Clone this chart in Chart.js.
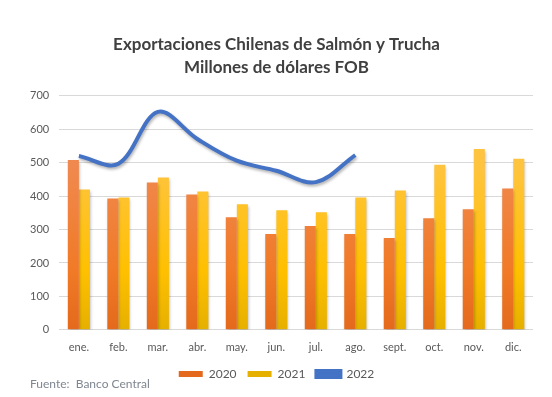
<!DOCTYPE html>
<html>
<head>
<meta charset="utf-8">
<script src="https://cdn.jsdelivr.net/npm/chart.js@4"></script>
<style>
  body { margin: 0; background: #fff; }
  #wrap { width: 552px; height: 397px; }
</style>
</head>
<body>
<div id="wrap"><canvas id="salmonChart"></canvas></div>
<script>
var months = ['ene.', 'feb.', 'mar.', 'abr.', 'may.', 'jun.', 'jul.', 'ago.', 'sept.', 'oct.', 'nov.', 'dic.'];
var data2020 = [508, 393, 441, 405, 337, 287, 311, 287, 275, 334, 361, 423];
var data2021 = [420, 396, 456, 414, 376, 358, 352, 396, 417, 494, 541, 512];
var data2022 = [520, 497, 652, 571, 506, 476, 442, 523];
var titleLines = ['Exportaciones Chilenas de Salmón y Trucha', 'Millones de dólares FOB'];
var sourceText = 'Fuente:  Banco Central';

function barGradient(top, mid, bottom) {
    return function(context) {
        var chart = context.chart;
        var area = chart.chartArea;
        if (!area) return mid;
        var g = chart.ctx.createLinearGradient(0, area.top, 0, area.bottom);
        g.addColorStop(0.3, top);
        g.addColorStop(0.75, mid);
        g.addColorStop(1, bottom);
        return g;
    };
}

var shadowPlugin = {
    id: 'shadows',
    beforeDatasetDraw: function(chart, args) {
        var ctx = chart.ctx;
        ctx.save();
        ctx.shadowColor = 'rgba(0,0,0,0.3)';
        ctx.shadowBlur = 3;
        ctx.shadowOffsetX = 1;
        ctx.shadowOffsetY = 2;
    },
    afterDatasetDraw: function(chart) {
        chart.ctx.restore();
    }
};

var sourcePlugin = {
    id: 'source',
    afterDraw: function(chart) {
        var ctx = chart.ctx;
        ctx.save();
        ctx.font = '12px Lato, "Open Sans", sans-serif';
        ctx.fillStyle = '#7f8690';
        ctx.textBaseline = 'middle';
        ctx.fillText(sourceText, 30, 384);
        ctx.restore();
    }
};

var ctx = document.getElementById('salmonChart').getContext('2d');
new Chart(ctx, {
    type: 'bar',
    data: {
        labels: months,
        datasets: [
            {
                label: '2022',
                type: 'line',
                data: data2022,
                borderColor: '#4472C4',
                backgroundColor: '#4472C4',
                borderWidth: 4,
                tension: 0.35,
                pointRadius: 0,
                order: 0
            },
            {
                label: '2020',
                data: data2020,
                backgroundColor: barGradient('#F0894F', '#F07A26', '#E4691C'),
                barPercentage: 1,
                categoryPercentage: 0.56,
                order: 1
            },
            {
                label: '2021',
                data: data2021,
                backgroundColor: barGradient('#FFC43F', '#FFC000', '#E6B000'),
                barPercentage: 1,
                categoryPercentage: 0.56,
                order: 1
            }
        ]
    },
    options: {
        responsive: true,
        maintainAspectRatio: false,
        animation: false,
        layout: { padding: { left: 20, right: 19, top: 8, bottom: 7 } },
        plugins: {
            title: {
                display: true,
                text: titleLines,
                color: '#404040',
                font: { family: 'Lato, "Open Sans", sans-serif', size: 17, weight: 'bold', lineHeight: 1.35 },
                padding: { top: 25, bottom: 17 }
            },
            legend: {
                position: 'bottom',
                labels: {
                    color: '#595959',
                    font: { family: 'Lato, "Open Sans", sans-serif', size: 12 },
                    boxWidth: 24,
                    boxHeight: 6,
                    padding: 11,
                    sort: function(a, b) { return a.text.localeCompare(b.text); }
                }
            },
            tooltip: { enabled: false }
        },
        scales: {
            x: {
                grid: { display: false },
                border: { display: false },
                ticks: { color: '#595959', font: { family: 'Lato, "Open Sans", sans-serif', size: 11 } }
            },
            y: {
                min: 0,
                max: 700,
                ticks: { stepSize: 100, color: '#595959', padding: 10, font: { family: 'Lato, "Open Sans", sans-serif', size: 11 } },
                grid: { color: '#d9d9d9', drawTicks: false },
                border: { display: false }
            }
        }
    },
    plugins: [shadowPlugin, sourcePlugin]
});
</script>
</body>
</html>
